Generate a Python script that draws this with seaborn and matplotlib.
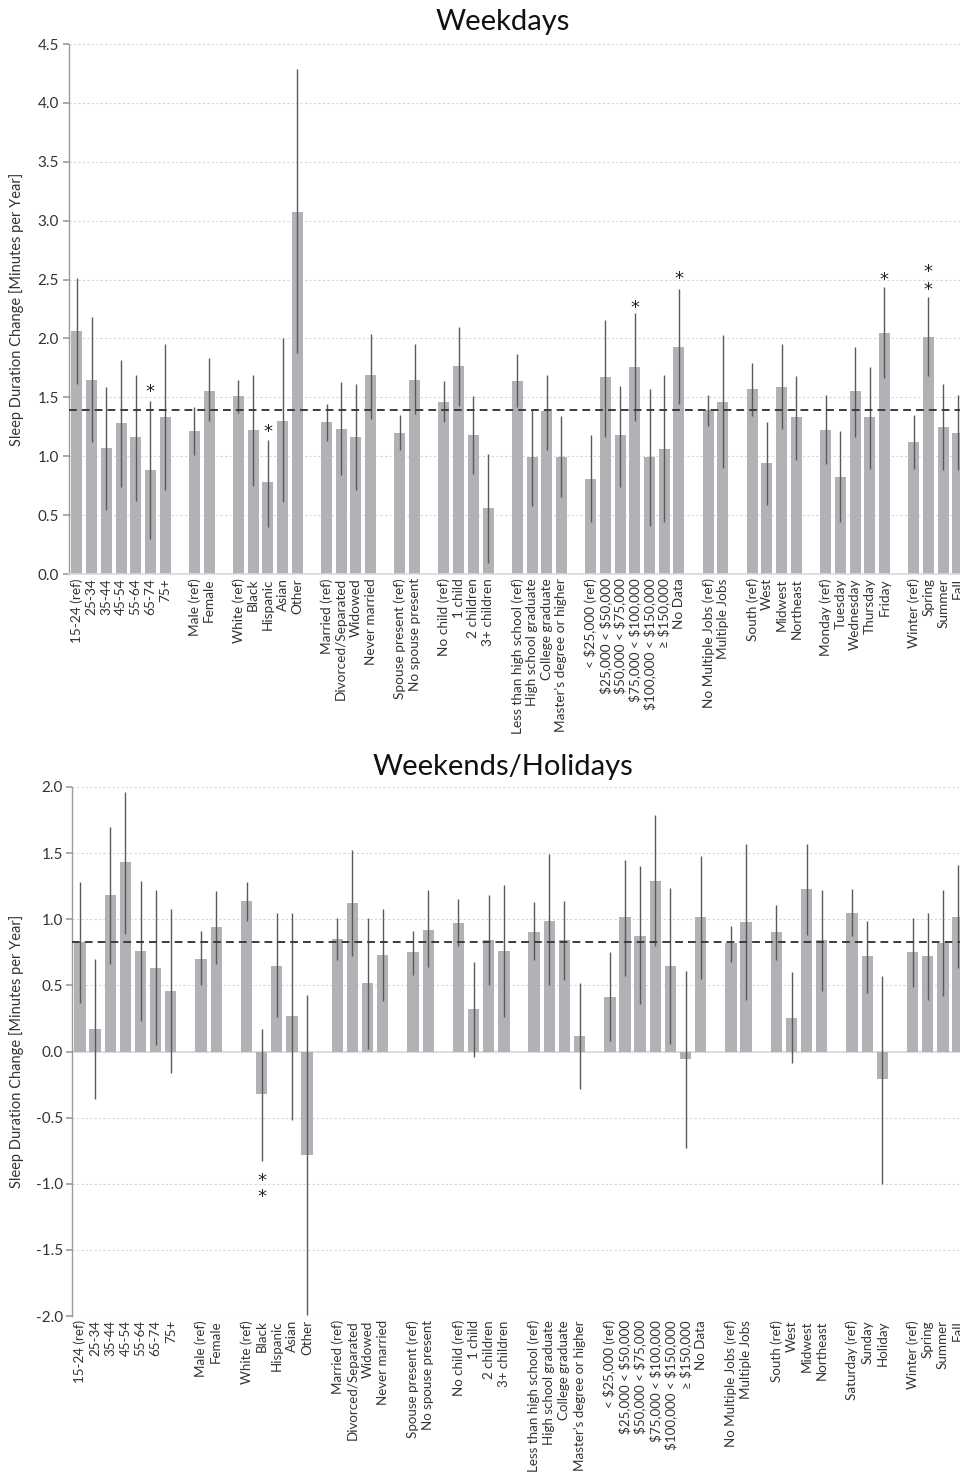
import numpy as np
import pandas as pd
import matplotlib
matplotlib.use("Agg")
import matplotlib.pyplot as plt
import seaborn as sns

# ---------------- data ----------------
age_labels = ["15-24 (ref)", "25-34", "35-44", "45-54", "55-64", "65-74", "75+"]
sex_labels = ["Male (ref)", "Female"]
race_labels = ["White (ref)", "Black", "Hispanic", "Asian", "Other"]
marital_labels = ["Married (ref)", "Divorced/Separated", "Widowed", "Never married"]
spouse_labels = ["Spouse present (ref)", "No spouse present"]
child_labels = ["No child (ref)", "1 child", "2 children", "3+ children"]
edu_labels = ["Less than high school (ref)", "High school graduate",
              "College graduate", "Master's degree or higher"]
income_labels = ["< $25,000 (ref)", "$25,000 < $50,000", "$50,000 < $75,000",
                 "$75,000 < $100,000", "$100,000 < $150,000", "\u2265 $150,000", "No Data"]
jobs_labels = ["No Multiple Jobs (ref)", "Multiple Jobs"]
region_labels = ["South (ref)", "West", "Midwest", "Northeast"]
weekday_labels = ["Monday (ref)", "Tuesday", "Wednesday", "Thursday", "Friday"]
weekend_labels = ["Saturday (ref)", "Sunday", "Holiday"]
season_labels = ["Winter (ref)", "Spring", "Summer", "Fall"]

wd_groups = [age_labels, sex_labels, race_labels, marital_labels, spouse_labels,
             child_labels, edu_labels, income_labels, jobs_labels, region_labels,
             weekday_labels, season_labels]
we_groups = [age_labels, sex_labels, race_labels, marital_labels, spouse_labels,
             child_labels, edu_labels, income_labels, jobs_labels, region_labels,
             weekend_labels, season_labels]

# Weekdays: estimate, lower and upper bound of the interval
wd_value = [2.06, 1.65, 1.07, 1.28, 1.16, 0.88, 1.33,
            1.21, 1.55,
            1.51, 1.22, 0.78, 1.30, 3.07,
            1.29, 1.23, 1.16, 1.69,
            1.20, 1.65,
            1.46, 1.77, 1.18, 0.56,
            1.64, 0.99, 1.38, 0.99,
            0.81, 1.67, 1.18, 1.76, 0.99, 1.06, 1.93,
            1.39, 1.46,
            1.57, 0.94, 1.59, 1.33,
            1.22, 0.82, 1.55, 1.33, 2.05,
            1.12, 2.01, 1.25, 1.20]
wd_lower = [1.61, 1.12, 0.54, 0.74, 0.62, 0.30, 0.71,
            1.01, 1.30,
            1.37, 0.75, 0.40, 0.61, 1.88,
            1.13, 0.84, 0.71, 1.32,
            1.05, 1.36,
            1.29, 1.43, 0.85, 0.09,
            1.42, 0.58, 1.05, 0.65,
            0.44, 1.16, 0.74, 1.30, 0.41, 0.44, 1.44,
            1.26, 0.90,
            1.34, 0.59, 1.23, 0.97,
            0.93, 0.44, 1.16, 0.89, 1.66,
            0.89, 1.68, 0.88, 0.88]
wd_upper = [2.51, 2.18, 1.59, 1.82, 1.69, 1.47, 1.95,
            1.42, 1.83,
            1.65, 1.69, 1.14, 2.00, 4.29,
            1.44, 1.63, 1.61, 2.04,
            1.35, 1.95,
            1.64, 2.10, 1.51, 1.02,
            1.87, 1.39, 1.69, 1.34,
            1.18, 2.16, 1.60, 2.22, 1.57, 1.69, 2.42,
            1.52, 2.03,
            1.79, 1.29, 1.95, 1.68,
            1.52, 1.21, 1.93, 1.76, 2.44,
            1.35, 2.35, 1.61, 1.52]
wd_reference = 1.39
wd_stars = [("65-74", [1.59]), ("Hispanic", [1.25]), ("$75,000 < $100,000", [2.31]),
            ("No Data", [2.55]), ("Friday", [2.54]), ("Spring", [2.46, 2.61])]

# Weekends/Holidays
we_value = [0.83, 0.17, 1.18, 1.43, 0.76, 0.63, 0.46,
            0.70, 0.94,
            1.14, -0.32, 0.65, 0.27, -0.78,
            0.85, 1.12, 0.52, 0.73,
            0.75, 0.92,
            0.97, 0.32, 0.84, 0.76,
            0.90, 0.99, 0.84, 0.12,
            0.41, 1.02, 0.87, 1.29, 0.65, -0.06, 1.02,
            0.82, 0.98,
            0.90, 0.25, 1.23, 0.84,
            1.05, 0.72, -0.21,
            0.75, 0.72, 0.82, 1.02]
we_lower = [0.37, -0.36, 0.66, 0.89, 0.23, 0.05, -0.16,
            0.50, 0.66,
            0.99, -0.83, 0.26, -0.52, -1.99,
            0.69, 0.72, 0.02, 0.38,
            0.58, 0.64,
            0.80, -0.04, 0.50, 0.26,
            0.69, 0.50, 0.54, -0.28,
            0.08, 0.57, 0.36, 0.80, 0.06, -0.73, 0.55,
            0.68, 0.39,
            0.69, -0.09, 0.88, 0.46,
            0.87, 0.44, -1.00,
            0.49, 0.39, 0.42, 0.63]
we_upper = [1.28, 0.70, 1.70, 1.96, 1.29, 1.22, 1.08,
            0.91, 1.21,
            1.28, 0.17, 1.05, 1.05, 0.43,
            1.01, 1.52, 1.01, 1.08,
            0.91, 1.22,
            1.15, 0.68, 1.18, 1.26,
            1.13, 1.49, 1.14, 0.52,
            0.75, 1.45, 1.40, 1.79, 1.24, 0.61, 1.48,
            0.95, 1.57,
            1.11, 0.60, 1.57, 1.22,
            1.23, 0.99, 0.57,
            1.01, 1.05, 1.22, 1.41]
we_reference = 0.83
we_stars = [("Black", [-0.94, -1.06])]

# ---------------- style ----------------
sns.set_theme(style="white")
plt.rcParams["font.family"] = ["Lato", "DejaVu Sans"]
plt.rcParams["text.parse_math"] = False
plt.rcParams["axes.unicode_minus"] = False

BAR = "#b1b2b6"
ERR = "#5a5a5a"
TXT = "#333333"

W, H = 960, 1481
fig = plt.figure(figsize=(W / 100, H / 100), dpi=100)


def slot_positions(groups):
    pos, p = [], 0
    for g in groups:
        for _ in g:
            pos.append(p)
            p += 1
        p += 1
    return pos


def panel(rect, groups, values, lower, upper, ref, stars, ylim, xlim, title, title_y, xfs):
    ax = fig.add_axes(rect)
    labels = [l for g in groups for l in g]
    pos = slot_positions(groups)
    df = pd.DataFrame({"pos": pos, "value": values, "label": labels})
    sns.barplot(data=df, x="pos", y="value", native_scale=True, color=BAR,
                saturation=1, width=0.75, errorbar=None, linewidth=0, ax=ax, zorder=2)
    ax.vlines(pos, lower, upper, colors=ERR, lw=1.0, zorder=3)
    ax.axhline(ref, color="#3c3c3c", lw=1.4, ls=(0, (4, 2.6)), zorder=4)
    lab2pos = dict(zip(labels, pos))
    for lab, ys in stars:
        for yv in ys:
            ax.annotate("*", (lab2pos[lab], yv), xytext=(0, -0.59 * 13),
                        textcoords="offset points", ha="center", va="baseline",
                        fontsize=13, family="DejaVu Sans", color="#222222", zorder=5)
    ax.set_xlim(*xlim)
    ax.set_ylim(*ylim)
    ticks = np.arange(ylim[0], ylim[1] + 0.001, 0.5)
    ax.set_yticks(ticks)
    ax.set_yticklabels([f"{v:.1f}" for v in ticks])
    ax.set_xticks(pos)
    ax.set_xticklabels(labels, rotation=90, fontsize=xfs, color=TXT)
    ax.tick_params(axis="x", length=0, pad=3)
    ax.tick_params(axis="y", length=4, color="#a0a0a0", labelsize=11,
                   labelcolor=TXT, pad=3, direction="out", left=True)
    ax.yaxis.grid(True, color="#d6d6d6", ls=(0, (2, 2)), lw=0.8)
    ax.set_axisbelow(True)
    for s in ["top", "right"]:
        ax.spines[s].set_visible(False)
    ax.spines["left"].set_color("#9a9a9a")
    ax.spines["left"].set_linewidth(1.0)
    if ylim[0] < 0:
        ax.spines["bottom"].set_visible(False)
        ax.axhline(0, color="#d9d9d9", lw=1.2, zorder=1)
    else:
        ax.spines["bottom"].set_color("#d9d9d9")
        ax.spines["bottom"].set_linewidth(1.2)
    ax.set_xlabel("")
    ax.set_ylabel("")
    fig.text(503 / W, 1 - title_y / H, title, ha="center", va="center",
             fontsize=21, color="#111111")
    y0 = rect[1] + rect[3] / 2
    fig.text(17 / W, y0, "Sleep Duration Change [Minutes per Year]", rotation=90,
             ha="center", va="center", fontsize=10.5, color=TXT)
    return ax


panel([68.6 / W, 1 - 574 / H, 903.9 / W, 530 / H], wd_groups, wd_value, wd_lower,
      wd_upper, wd_reference, wd_stars, (0, 4.5), (-0.57, 61.0), "Weekdays", 22, 9.8)
panel([72.4 / W, 1 - 1316 / H, 909.9 / W, 529 / H], we_groups, we_value, we_lower,
      we_upper, we_reference, we_stars, (-2.0, 2.0), (-0.5, 59.6),
      "Weekends/Holidays", 767, 9.6)

fig.savefig("out.png", dpi=100)
